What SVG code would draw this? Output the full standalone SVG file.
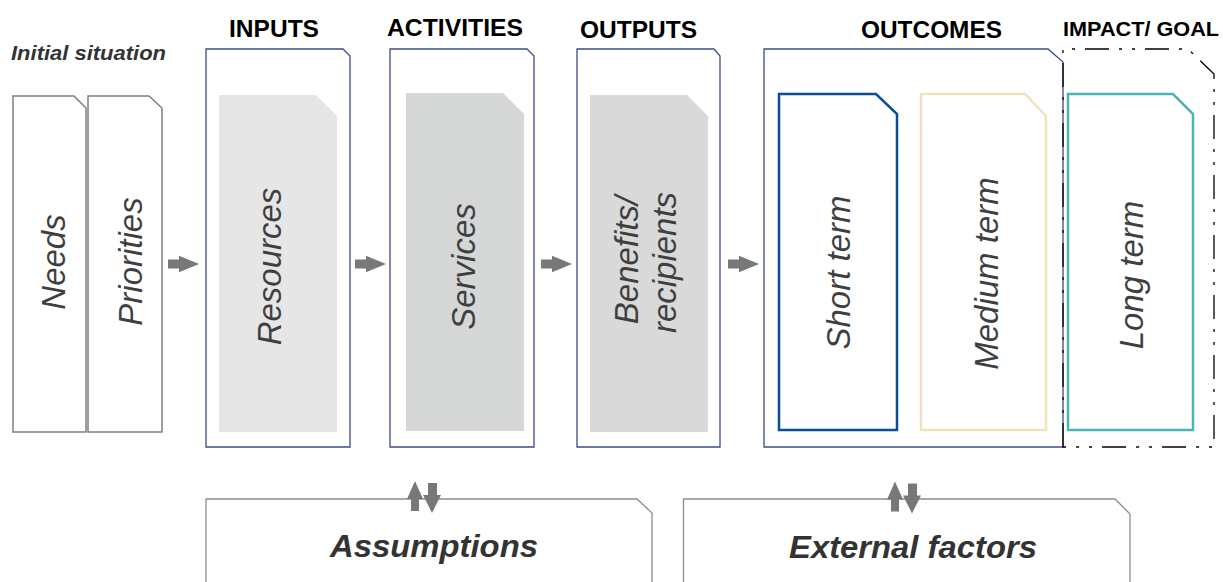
<svg xmlns="http://www.w3.org/2000/svg" width="1223" height="582" viewBox="0 0 1223 582">
  <style>
    .hdr { font-family: "Liberation Sans", Arial, sans-serif; font-weight: bold; fill: #000; }
    .sub { font-family: "Liberation Sans", Arial, sans-serif; font-weight: bold; font-style: italic; fill: #333; }
    .vt { font-family: "Liberation Sans", Arial, sans-serif; font-style: italic; font-size: 33px; fill: #3f3f3f; text-anchor: middle; }
    .big { font-family: "Liberation Sans", Arial, sans-serif; font-weight: bold; font-style: italic; font-size: 32px; fill: #333; text-anchor: middle; }
    .situ { fill: #fff; stroke: #808080; stroke-width: 1.5; }
    .frame { fill: #fff; stroke: #3f4c8c; stroke-width: 1.3; }
    .dashframe { fill: none; stroke: #000; stroke-width: 1.3; stroke-dasharray: 24 10 3 10 3 10; }
    .term { fill: #fff; stroke-width: 2.5; }
    .ctx { fill: #fff; stroke: #8c8c8c; stroke-width: 1.3; }
    .arr { fill: #76787a; }
  </style>
  <defs>
    <path id="rarrow" d="M0,-4.6 L11,-4.6 L11,-8.3 L31,0 L11,8.3 L11,4.6 L0,4.6 Z"/>
    <g id="updown">
      <path d="M415,481 L423,499 L419,499 L419,511 L411,511 L411,499 L407,499 Z"/>
      <path d="M428,483 L437,483 L437,495 L441,495 L432,513 L423,495 L428,495 Z"/>
    </g>
  </defs>

  <!-- column headings -->
  <text class="sub" x="11" y="60" font-size="21" textLength="155" lengthAdjust="spacingAndGlyphs">Initial situation</text>
  <text class="hdr" x="229" y="37" font-size="24" textLength="90" lengthAdjust="spacingAndGlyphs">INPUTS</text>
  <text class="hdr" x="387" y="36" font-size="24" textLength="136" lengthAdjust="spacingAndGlyphs">ACTIVITIES</text>
  <text class="hdr" x="580" y="38" font-size="24" textLength="117" lengthAdjust="spacingAndGlyphs">OUTPUTS</text>
  <text class="hdr" x="861" y="38" font-size="24" textLength="141" lengthAdjust="spacingAndGlyphs">OUTCOMES</text>
  <text class="hdr" x="1063" y="36" font-size="21" textLength="156" lengthAdjust="spacingAndGlyphs">IMPACT/ GOAL</text>

  <!-- initial situation -->
  <g id="needs">
    <path class="situ" d="M13,432 L13,96 L74,96 L86,108 L86,432 Z"/>
    <text class="vt" transform="translate(65,262) rotate(-90)">Needs</text>
  </g>
  <g id="priorities">
    <path class="situ" d="M88,432 L88,96 L149,96 L162,108 L162,432 Z"/>
    <text class="vt" transform="translate(142,261.5) rotate(-90)">Priorities</text>
  </g>

  <!-- inputs -->
  <g id="inputs">
    <path class="frame" d="M206,447 L206,49 L343,49 L350,56 L350,447 Z"/>
    <path fill="#e6e6e6" d="M219,95 L316,95 L337,116 L337,432 L219,432 Z"/>
    <text class="vt" transform="translate(281,266.5) rotate(-90)">Resources</text>
  </g>

  <!-- activities -->
  <g id="activities">
    <path class="frame" d="M390,447 L390,49 L527,49 L534,56 L534,447 Z"/>
    <path fill="#d5d7d7" d="M406,93 L503,93 L524,114 L524,431 L406,431 Z"/>
    <text class="vt" transform="translate(475,266.5) rotate(-90)">Services</text>
  </g>

  <!-- outputs -->
  <g id="outputs">
    <path class="frame" d="M577,447 L577,49 L714,49 L720,56 L720,447 Z"/>
    <path fill="#d9d9d9" d="M590,95 L687,95 L708,116 L708,432 L590,432 Z"/>
    <text class="vt" transform="translate(638,260) rotate(-90)">Benefits/</text>
    <text class="vt" transform="translate(676,262.5) rotate(-90)">recipients</text>
  </g>

  <!-- outcomes -->
  <g id="outcomes">
    <path class="frame" d="M764,447 L764,49 L1048,49 L1063,62 L1063,447 Z"/>
  </g>

  <!-- impact / goal -->
  <g id="impact">
    <path class="dashframe" d="M1063,447 L1063,49 L1188,49 L1214,74 L1214,447 Z"/>
  </g>

  <g id="short-term">
    <path class="term" stroke="#0b4e96" d="M779,94 L876,94 L897,114 L897,430 L779,430 Z"/>
    <text class="vt" transform="translate(850,272.5) rotate(-90)">Short term</text>
  </g>
  <g id="medium-term">
    <path class="term" stroke="#efe2c0" d="M921,94 L1025,94 L1046,116 L1046,430 L921,430 Z"/>
    <text class="vt" transform="translate(998,273.5) rotate(-90)">Medium term</text>
  </g>
  <g id="long-term">
    <path class="term" stroke="#4bb4b4" d="M1068,94 L1173,94 L1193,114 L1193,430 L1068,430 Z"/>
    <text class="vt" transform="translate(1143,275) rotate(-90)">Long term</text>
  </g>

  <!-- context boxes -->
  <g id="assumptions">
    <path class="ctx" d="M206,590 L206,499 L637,499 L652,513 L652,590"/>
    <text class="big" x="434" y="557" textLength="208" lengthAdjust="spacingAndGlyphs">Assumptions</text>
  </g>
  <g id="external-factors">
    <path class="ctx" d="M683.5,590 L683.5,499 L1115,499 L1130,514 L1130,590"/>
    <text class="big" x="913" y="558" textLength="248" lengthAdjust="spacingAndGlyphs">External factors</text>
  </g>

  <!-- connectors -->
  <g id="connectors" class="arr">
    <use href="#rarrow" transform="translate(168,264)"/>
    <use href="#rarrow" transform="translate(355,264)"/>
    <use href="#rarrow" transform="translate(541,264)"/>
    <use href="#rarrow" transform="translate(728,264)"/>
    <use href="#updown"/>
    <use href="#updown" transform="translate(480,0.5)"/>
  </g>
</svg>
